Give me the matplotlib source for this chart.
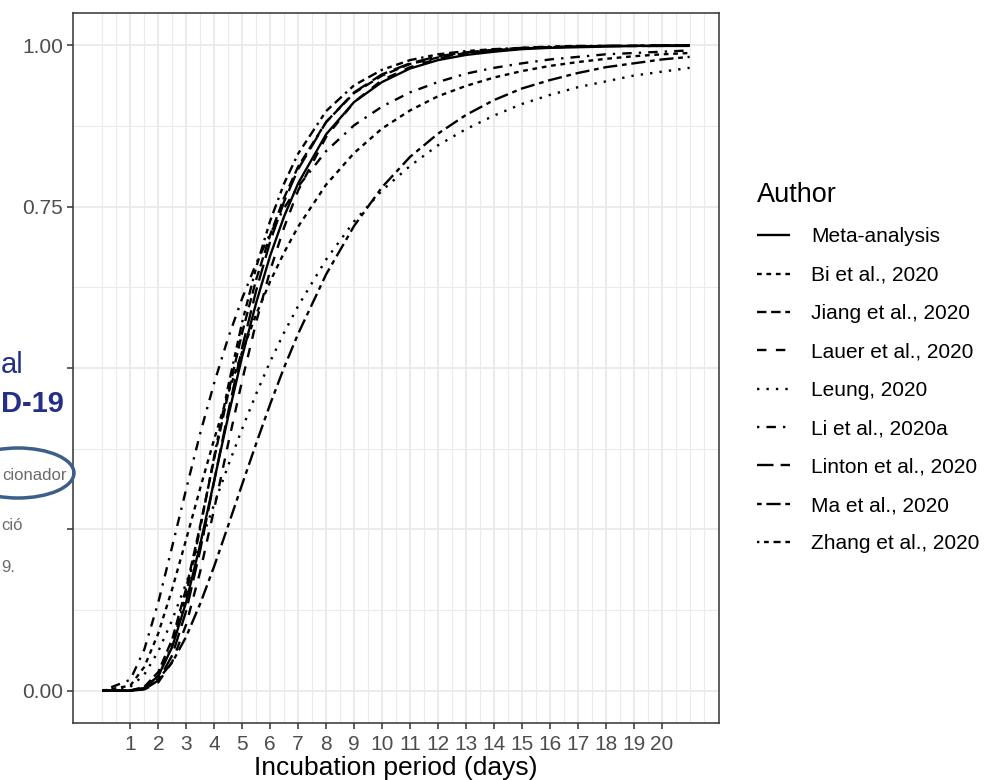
import matplotlib
matplotlib.use("Agg")
import matplotlib.pyplot as plt
from matplotlib.patches import Ellipse

plt.rcParams['font.family'] = ['Liberation Sans', 'DejaVu Sans']

days = [0, 1, 1.5, 2, 2.5, 3, 3.5, 4, 4.5, 5, 5.5, 6, 6.5, 7, 8, 9, 10,
        11, 12, 13, 14, 15, 16, 17, 18, 19, 20, 21]

# cumulative proportion per author
meta = [0, 0.0002, 0.004, 0.023, 0.068, 0.138, 0.227, 0.326, 0.425, 0.518, 0.601, 0.674, 0.735, 0.786,
        0.862, 0.912, 0.943, 0.964, 0.977, 0.985, 0.990, 0.994, 0.996, 0.997, 0.998, 0.999, 0.999, 0.999]
bi = [0, 0.008, 0.037, 0.089, 0.158, 0.235, 0.314, 0.390, 0.461, 0.525, 0.583, 0.634, 0.679, 0.719,
      0.784, 0.833, 0.871, 0.899, 0.921, 0.937, 0.950, 0.960, 0.968, 0.974, 0.979, 0.983, 0.986, 0.988]
jiang = [0, 0.0003, 0.006, 0.029, 0.080, 0.159, 0.256, 0.360, 0.461, 0.555, 0.637, 0.706, 0.764, 0.812,
         0.881, 0.926, 0.953, 0.971, 0.981, 0.988, 0.992, 0.995, 0.997, 0.998, 0.999, 0.999, 0.999, 1.0]
lauer = [0, 0.0001, 0.002, 0.013, 0.045, 0.103, 0.185, 0.282, 0.383, 0.481, 0.571, 0.651, 0.718, 0.775,
         0.858, 0.912, 0.946, 0.966, 0.979, 0.987, 0.992, 0.995, 0.997, 0.998, 0.999, 0.999, 0.999, 1.0]
leung = [0, 0.006, 0.025, 0.061, 0.110, 0.167, 0.228, 0.289, 0.349, 0.406, 0.460, 0.510, 0.555, 0.596,
         0.668, 0.727, 0.775, 0.813, 0.845, 0.870, 0.891, 0.909, 0.923, 0.935, 0.944, 0.953, 0.959, 0.965]
li = [0, 0.017, 0.064, 0.137, 0.224, 0.313, 0.399, 0.477, 0.547, 0.608, 0.662, 0.708, 0.748, 0.781,
      0.836, 0.876, 0.905, 0.927, 0.943, 0.956, 0.965, 0.972, 0.978, 0.982, 0.986, 0.988, 0.990, 0.992]
linton = [0, 0.0, 0.002, 0.016, 0.055, 0.124, 0.218, 0.325, 0.432, 0.532, 0.620, 0.696, 0.758, 0.808,
          0.881, 0.927, 0.955, 0.972, 0.983, 0.989, 0.993, 0.996, 0.997, 0.998, 0.999, 0.999, 1.0, 1.0]
ma = [0, 0.0004, 0.004, 0.018, 0.044, 0.084, 0.135, 0.193, 0.256, 0.320, 0.383, 0.444, 0.501, 0.553,
      0.645, 0.720, 0.780, 0.827, 0.863, 0.892, 0.915, 0.933, 0.946, 0.957, 0.966, 0.972, 0.978, 0.982]
zhang = [0, 0.0002, 0.004, 0.023, 0.071, 0.150, 0.252, 0.363, 0.472, 0.571, 0.656, 0.728, 0.786, 0.832,
         0.898, 0.938, 0.962, 0.977, 0.986, 0.991, 0.994, 0.996, 0.998, 0.999, 0.999, 0.999, 1.0, 1.0]

authors = ['Meta-analysis', 'Bi et al., 2020', 'Jiang et al., 2020', 'Lauer et al., 2020',
           'Leung, 2020', 'Li et al., 2020a', 'Linton et al., 2020', 'Ma et al., 2020',
           'Zhang et al., 2020']
series = [meta, bi, jiang, lauer, leung, li, linton, ma, zhang]

x_breaks = list(range(1, 21))
y_breaks = [0, 0.25, 0.5, 0.75, 1.0]
y_labels = ['0.00', '', '', '0.75', '1.00']

# ggplot default linetype sequence
styles = ['-', (0, (2, 2)), (0, (4, 2)), (0, (4, 4)), (0, (1, 3)), (0, (1, 3, 4, 3)),
          (0, (7, 3)), (0, (2, 2, 6, 2)), (0, (1, 2, 2, 2, 3, 2, 4, 2))]

W, H = 984, 780
fig = plt.figure(figsize=(W / 100, H / 100), dpi=100)
ax = fig.add_axes([73 / W, 1 - 723 / H, (719 - 73) / W, (723 - 13) / H])

# grid like theme_bw
grid_col = '#EBEBEB'
minor_x = [0, 0.5] + [b + 0.5 for b in x_breaks] + [21, 21.5]
for xv in minor_x:
    ax.axvline(xv, color=grid_col, lw=0.8, zorder=0)
for xv in x_breaks:
    ax.axvline(xv, color=grid_col, lw=1.4, zorder=0)
for yv in [0.125, 0.375, 0.625, 0.875]:
    ax.axhline(yv, color=grid_col, lw=0.8, zorder=0)
for yv in y_breaks:
    ax.axhline(yv, color=grid_col, lw=1.4, zorder=0)

for name, vals, ls in zip(authors, series, styles):
    ax.plot(days, vals, color='black', lw=1.7, linestyle=ls, label=name,
            solid_capstyle='butt', dash_capstyle='butt')

ax.set_xlim(-1.05, 22.05)
ax.set_ylim(-0.05, 1.05)
ax.set_xticks(x_breaks)
ax.set_xticklabels([str(b) for b in x_breaks])
ax.set_yticks(y_breaks)
ax.set_yticklabels(y_labels)
ax.tick_params(axis='both', labelsize=15, labelcolor='#4D4D4D', color='#333333',
               length=4, width=1.1)
ax.tick_params(axis='x', pad=5)
ax.tick_params(axis='y', pad=3)
for sp in ax.spines.values():
    sp.set_color('#333333')
    sp.set_linewidth(1.1)
ax.set_xlabel('Incubation period (days)', fontsize=19, color='black', labelpad=1)

leg = ax.legend(loc='upper left', bbox_to_anchor=(757 / W, 1 - 182 / H),
                bbox_transform=fig.transFigure, frameon=False, title='Author',
                fontsize=15, title_fontsize=19.5, handlelength=1.6, handletextpad=1.0,
                labelspacing=0.93, borderpad=0, borderaxespad=0)
leg._legend_box.align = 'left'
leg._legend_box.sep = 14

# pieces of the slide lying over the left edge of the screenshot
navy = '#262F86'
grey = '#6B6B6B'
fig.text(1 / W, 1 - 373 / H, 'al', ha='left', va='baseline', fontsize=21, color=navy)
fig.text(1 / W, 1 - 412 / H, 'D-19', ha='left', va='baseline', fontsize=21,
         fontweight='bold', color=navy)
fig.text(2 / W, 1 - 480 / H, 'cionador', ha='left', va='baseline', fontsize=12, color=grey)
fig.text(1 / W, 1 - 530 / H, 'ció', ha='left', va='baseline', fontsize=12, color=grey)
fig.text(1 / W, 1 - 572 / H, '9.', ha='left', va='baseline', fontsize=12, color=grey)
fig.add_artist(Ellipse((18 / W, 1 - 473 / H), 112 / W, 50 / H, transform=fig.transFigure,
                       fill=False, edgecolor='#3B5E8C', lw=2.5))

fig.savefig('out.png', dpi=100)
